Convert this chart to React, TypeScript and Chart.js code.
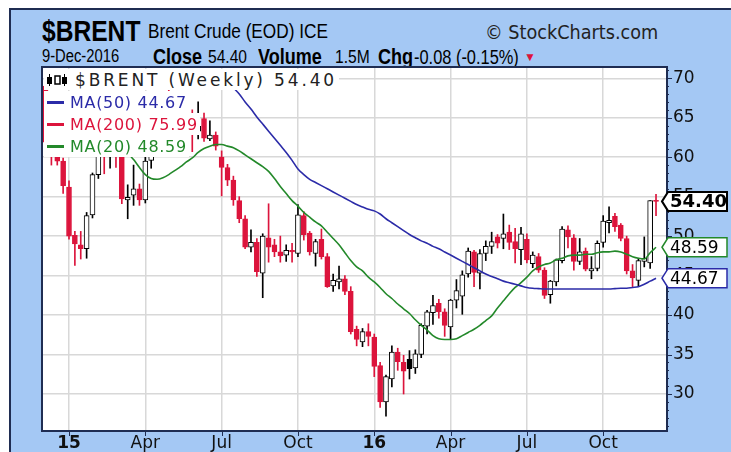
import React, { useEffect, useRef } from "react";
import { Chart, registerables } from "chart.js";

Chart.register(...registerables);

// ---------- data (weekly bars, weeks starting Monday) ----------
const START_WEEK = "2014-12-08";

const OPEN = [
  69.0, 61.9, 61.4, 59.5, 56.2, 50.1, 48.9, 48.4, 52.7, 57.8,
  61.5, 60.2, 62.6, 60.5, 54.6, 55.2, 56.0, 54.6, 59.6, 63.4,
  65.3, 66.5, 65.4, 66.8, 65.4, 65.5, 63.3, 64.9, 62.3, 62.8,
  60.0, 58.7, 57.1, 54.5, 52.2, 48.6, 49.2, 45.3, 49.8, 48.9,
  48.0, 47.6, 48.2, 47.8, 52.6, 50.4, 47.8, 49.6, 47.4, 43.7,
  44.2, 44.6, 43.0, 38.2, 36.6, 37.9, 37.2, 33.6, 29.0, 31.9,
  35.3, 34.0, 34.4, 33.3, 35.0, 38.6, 40.3, 41.5, 40.4, 38.5,
  41.9, 42.4, 45.2, 48.0, 45.3, 47.8, 48.7, 49.9, 49.7, 50.5,
  49.3, 48.3, 49.6, 46.5, 47.4, 45.7, 42.6, 44.2, 46.9, 50.8,
  49.8, 46.8, 48.1, 45.6, 45.9, 49.2, 51.7, 52.5, 51.4, 49.7,
  45.6, 44.4, 46.8, 46.6, 54.55,
];
const HIGH = [
  69.6, 63.0, 62.2, 59.9, 57.0, 50.6, 50.6, 53.0, 58.0, 61.8,
  62.5, 63.0, 63.0, 61.3, 56.5, 59.0, 56.6, 60.4, 64.0, 65.4,
  67.1, 69.6, 67.3, 67.2, 66.0, 66.0, 67.0, 65.6, 64.6, 63.2,
  60.8, 59.1, 57.6, 55.0, 52.6, 50.8, 49.7, 50.3, 54.1, 49.6,
  50.0, 48.9, 49.1, 54.0, 53.1, 50.6, 49.6, 50.9, 47.8, 45.2,
  46.2, 45.0, 43.6, 38.6, 38.3, 38.9, 37.6, 34.0, 32.4, 36.1,
  35.8, 34.9, 35.5, 35.6, 38.9, 40.6, 42.5, 42.0, 40.8, 42.0,
  44.5, 45.6, 48.5, 48.2, 48.3, 49.4, 50.5, 50.2, 52.8, 51.4,
  51.0, 51.1, 50.3, 48.0, 47.8, 46.0, 44.4, 47.1, 51.2, 51.3,
  50.2, 49.7, 48.5, 47.4, 49.4, 52.6, 53.7, 52.9, 51.6, 50.0,
  46.4, 47.2, 49.9, 54.5, 55.3,
];
const LOW = [
  61.2, 59.0, 59.0, 55.4, 49.6, 46.3, 47.1, 47.2, 52.3, 57.3,
  57.9, 58.6, 58.7, 54.1, 52.2, 53.9, 53.9, 54.2, 58.6, 61.7,
  64.4, 64.3, 63.7, 64.0, 62.6, 60.7, 62.3, 62.0, 62.1, 60.9,
  55.1, 56.4, 53.9, 51.7, 48.4, 48.0, 44.9, 42.2, 46.7, 47.4,
  46.7, 46.8, 46.7, 47.4, 49.5, 47.6, 46.2, 47.1, 43.5, 43.0,
  43.3, 42.6, 37.6, 36.1, 36.0, 36.1, 32.2, 28.3, 27.2, 30.9,
  33.0, 30.0, 31.9, 32.6, 34.6, 37.6, 38.8, 39.6, 37.3, 37.0,
  40.9, 40.1, 44.8, 43.6, 43.3, 46.9, 47.8, 48.5, 48.4, 48.3,
  46.6, 46.4, 46.6, 46.0, 45.4, 42.1, 41.5, 43.7, 46.6, 48.5,
  45.7, 46.4, 45.6, 44.6, 45.6, 48.6, 50.4, 50.6, 49.4, 45.2,
  43.6, 43.6, 46.1, 45.9, 52.6,
];
const CLOSE = [
  61.9, 61.4, 59.5, 56.4, 50.0, 49.0, 48.4, 52.6, 57.8, 61.5,
  60.2, 62.6, 60.5, 54.7, 54.9, 56.0, 54.6, 59.5, 63.5, 65.3,
  66.5, 65.4, 66.8, 65.4, 65.6, 63.3, 63.9, 62.4, 62.8, 61.4,
  58.7, 57.1, 54.6, 52.2, 48.6, 49.2, 45.5, 50.0, 48.6, 48.0,
  47.5, 48.2, 48.0, 52.7, 50.2, 48.0, 49.3, 47.4, 43.6, 44.4,
  44.6, 43.0, 37.9, 36.9, 37.9, 37.3, 33.5, 29.0, 32.2, 35.3,
  34.1, 32.9, 33.2, 35.1, 38.7, 40.4, 41.2, 40.4, 38.7, 41.9,
  43.1, 45.1, 48.1, 45.4, 47.8, 48.7, 49.3, 49.1, 50.3, 49.2,
  48.4, 50.3, 47.0, 47.6, 45.7, 42.5, 44.3, 47.0, 50.9, 49.9,
  46.8, 48.0, 45.8, 45.9, 49.1, 51.9, 52.0, 51.2, 49.7, 45.6,
  44.7, 46.9, 47.2, 54.5, 54.4,
];

// 50-week moving average as drawn (off the top of the chart before week 30)
const MA50 = [
  null, null, null, null, null, null, null, null, null, null,
  null, null, null, null, null, null, null, null, null, null,
  null, null, null, null, null, null, null, null, null, null,
  70.5, 69.6, 68.8, 68.0, 67.0, 66.1, 65.1, 64.2, 63.3, 62.4,
  61.5, 60.6, 59.6, 58.5, 57.8, 57.2, 56.8, 56.4, 56.0, 55.6,
  55.2, 54.8, 54.4, 54.0, 53.7, 53.4, 53.2, 52.8, 52.2, 51.7,
  51.2, 50.7, 50.2, 49.8, 49.4, 49.1, 48.7, 48.4, 48.0, 47.6,
  47.2, 46.8, 46.4, 46.0, 45.6, 45.2, 44.9, 44.6, 44.3, 44.1,
  43.9, 43.7, 43.5, 43.4, 43.35, 43.3, 43.3, 43.3, 43.3, 43.3,
  43.3, 43.3, 43.3, 43.3, 43.3, 43.3, 43.3, 43.35, 43.4, 43.4,
  43.5, 43.6, 43.9, 44.3, 44.67,
];
// 20-week moving average as drawn
const MA20 = [
  null, null, null, null, null, null, null, null, null, null,
  null, null, null, 61.8, 60.6, 59.7, 58.7, 57.8, 57.3, 57.2,
  57.4, 57.8, 58.3, 58.8, 59.4, 59.9, 60.6, 61.1, 61.4, 61.6,
  61.6, 61.4, 61.2, 60.8, 60.3, 59.8, 59.3, 58.8, 58.2, 57.3,
  56.3, 55.4, 54.5, 53.8, 53.0, 52.4, 51.8, 51.3, 50.5, 49.7,
  48.9, 47.9, 46.9, 46.1, 45.6, 44.8, 44.2, 43.5, 42.7, 42.1,
  41.4, 40.8, 40.2, 39.4, 38.7, 38.1, 37.4, 37.0, 36.9, 36.9,
  37.0, 37.4, 37.8, 38.2, 38.7, 39.3, 39.9, 40.9, 41.8, 42.7,
  43.5, 44.1, 44.8, 45.6, 46.1, 46.4, 46.6, 47.0, 47.2, 47.5,
  47.6, 47.6, 47.7, 47.7, 47.9, 48.0, 48.0, 48.1, 48.0, 47.7,
  47.4, 47.2, 47.1, 47.9, 48.59,
];

const QUARTER_DATES = [
  "2015-01-05", "2015-04-06", "2015-07-06", "2015-10-05",
  "2016-01-04", "2016-04-04", "2016-07-04", "2016-10-03",
];
const QUARTER_LABELS = ["15", "Apr", "Jul", "Oct", "16", "Apr", "Jul", "Oct"];
const YEAR_LABELS = ["15", "16"];
const Y_TICKS = [30, 35, 40, 45, 50, 55, 60, 65, 70];

const LAST_CLOSE = 54.4;
const LAST_MA50 = 44.67;
const LAST_MA200 = 75.99;
const LAST_MA20 = 48.59;

// ---------- style ----------
const RED = "#dc143c";
const BLUE = "#2b2ba8";
const GREEN = "#23892a";
const NAVY = "#1f2d52";
const PANEL = "#a4c8f4";
const GRID = "#d8d8d8";

const Y_MIN = 25.44;
const Y_MAX = 71.3;
const X_MIN = -0.43;
const X_MAX = 105.7;
const ROW1_TEXT_WIDTH = 262;

const WEEK_MS = 7 * 24 * 3600 * 1000;
const weekIndex = (d: string) =>
  Math.round((Date.parse(d) - Date.parse(START_WEEK)) / WEEK_MS);

const framePlugin = {
  id: "frame",
  beforeDraw(chart: any) {
    const { ctx, chartArea: a } = chart;
    ctx.save();
    ctx.fillStyle = "#ffffff";
    ctx.fillRect(a.left, a.top, a.right - a.left, a.bottom - a.top);
    ctx.restore();
  },
  afterDraw(chart: any) {
    const { ctx, chartArea: a, scales } = chart;
    const ys = scales.y;
    const xs = scales.x;
    ctx.save();
    ctx.strokeStyle = NAVY;
    ctx.lineWidth = 2;
    ctx.strokeRect(a.left - 1, a.top - 1, a.right - a.left + 2, a.bottom - a.top + 2);
    ctx.lineWidth = 1;
    ctx.beginPath();
    for (let v = Math.ceil(Y_MIN); v <= Math.floor(Y_MAX); v++) {
      const py = Math.round(ys.getPixelForValue(v)) + 0.5;
      const len = v % 5 === 0 ? 6 : 3;
      ctx.moveTo(a.right, py);
      ctx.lineTo(a.right + len, py);
    }
    xs.ticks.forEach((t: any) => {
      const px = Math.round(xs.getPixelForValue(t.value)) + 0.5;
      ctx.moveTo(px, a.bottom);
      ctx.lineTo(px, a.bottom + 6);
    });
    ctx.stroke();

    const tag = (value: number, color: string, bold: boolean) => {
      const y = ys.getPixelForValue(value);
      const tip = a.right - 4;
      const left = a.right + 2;
      const right = a.right + 61;
      const h = 9.5;
      ctx.beginPath();
      ctx.moveTo(tip, y);
      ctx.lineTo(left, y - h);
      ctx.lineTo(right, y - h);
      ctx.lineTo(right, y + h);
      ctx.lineTo(left, y + h);
      ctx.closePath();
      ctx.fillStyle = "#ffffff";
      ctx.fill();
      ctx.lineWidth = bold ? 2 : 1.5;
      ctx.strokeStyle = color;
      ctx.stroke();
      ctx.fillStyle = "#000000";
      ctx.font = (bold ? "bold 18px" : "17px") + ' "DejaVu Sans"';
      ctx.textAlign = "left";
      ctx.textBaseline = "middle";
      ctx.fillText(value.toFixed(2), left + 2, y + 1);
    };
    tag(LAST_MA50, BLUE, false);
    tag(LAST_MA20, GREEN, false);
    tag(LAST_CLOSE, "#000000", true);
    ctx.restore();
  },
};

function App() {
  const canvasRef = useRef<HTMLCanvasElement | null>(null);
  const row1Ref = useRef<HTMLSpanElement | null>(null);

  useEffect(() => {
    const span = row1Ref.current;
    if (span) {
      span.style.letterSpacing = "0px";
      const w = span.getBoundingClientRect().width;
      const n = (span.textContent || "").length;
      if (n > 0) span.style.letterSpacing = `${(ROW1_TEXT_WIDTH - w) / n}px`;
    }

    const canvas = canvasRef.current;
    if (!canvas) return;

    const colors = CLOSE.map((c, i) =>
      c >= (i === 0 ? OPEN[0] : CLOSE[i - 1]) ? "#000000" : RED
    );
    const fills = CLOSE.map((c, i) => (c < OPEN[i] ? colors[i] : "#ffffff"));
    const bodies = CLOSE.map((c, i) => ({ x: i, y: [OPEN[i], c] }));
    const wicks = CLOSE.map((_, i) => ({ x: i, y: [LOW[i], HIGH[i]] }));
    const ma50Pts = MA50.map((v, i) => ({ x: i, y: v })).filter((p) => p.y !== null);
    const ma20Pts = MA20.map((v, i) => ({ x: i, y: v })).filter((p) => p.y !== null);
    const quarterIdx = QUARTER_DATES.map(weekIndex);

    const chart = new Chart(canvas, {
      type: "bar",
      data: {
        datasets: [
          {
            type: "line",
            label: "MA(50)",
            data: ma50Pts as any,
            borderColor: BLUE,
            borderWidth: 1.6,
            pointRadius: 0,
            cubicInterpolationMode: "monotone",
            order: 0,
          } as any,
          {
            type: "line",
            label: "MA(20)",
            data: ma20Pts as any,
            borderColor: GREEN,
            borderWidth: 1.6,
            pointRadius: 0,
            cubicInterpolationMode: "monotone",
            order: 0,
          } as any,
          {
            type: "bar",
            label: "body",
            data: bodies as any,
            backgroundColor: fills,
            borderColor: colors,
            borderWidth: 1,
            borderSkipped: false,
            barThickness: 5,
            minBarLength: 1,
            grouped: false,
            order: 1,
          } as any,
          {
            type: "bar",
            label: "wick",
            data: wicks as any,
            backgroundColor: colors,
            borderWidth: 0,
            barThickness: 1,
            grouped: false,
            order: 2,
          } as any,
        ],
      },
      options: {
        animation: false,
        responsive: false,
        maintainAspectRatio: false,
        events: [],
        layout: { padding: { left: 43, top: 68, right: 15, bottom: 0 } },
        plugins: { legend: { display: false }, tooltip: { enabled: false } },
        scales: {
          x: {
            type: "linear",
            min: X_MIN,
            max: X_MAX,
            offset: false,
            border: { display: false },
            grid: { color: GRID, lineWidth: 1.5, drawTicks: false, offset: false },
            afterBuildTicks: (axis: any) => {
              axis.ticks = quarterIdx.map((v) => ({ value: v }));
            },
            afterFit: (axis: any) => {
              axis.height = 22;
            },
            ticks: {
              autoSkip: false,
              maxRotation: 0,
              padding: 3,
              color: "#111111",
              font: (ctx: any) => ({
                family: "DejaVu Sans",
                size: 17,
                weight: YEAR_LABELS.includes(QUARTER_LABELS[ctx.index]) ? "bold" : "normal",
              }),
              callback: (_v: any, i: number) => QUARTER_LABELS[i],
            },
          },
          y: {
            type: "linear",
            position: "right",
            min: Y_MIN,
            max: Y_MAX,
            border: { display: false },
            grid: { color: GRID, lineWidth: 1.5, drawTicks: false },
            afterBuildTicks: (axis: any) => {
              axis.ticks = Y_TICKS.map((v) => ({ value: v }));
            },
            afterFit: (axis: any) => {
              axis.width = 50;
            },
            ticks: {
              padding: 7,
              color: "#111111",
              font: { family: "DejaVu Sans", size: 17 },
              callback: (v: any) => String(v),
            },
          },
        },
      } as any,
      plugins: [framePlugin],
    });

    return () => chart.destroy();
  }, []);

  const sans = '"Liberation Sans", Arial, sans-serif';
  const abs = (left: number, top: number, font: string, extra: any = {}) => ({
    position: "absolute" as const,
    left,
    top,
    whiteSpace: "nowrap" as const,
    lineHeight: 1,
    font: `${font} ${sans}`,
    color: "#000",
    transform: "scaleX(0.82)",
    transformOrigin: "0 0",
    ...extra,
  });
  const legendFont = '16px "DejaVu Sans", sans-serif';

  const legendRow = (top: number, color: string, text: string) => (
    <div
      style={{
        position: "absolute",
        left: 44,
        top,
        height: 22,
        background: "#ffffff",
        display: "flex",
        alignItems: "center",
        paddingRight: 2,
        color,
        font: legendFont,
        letterSpacing: "0.7px",
        whiteSpace: "nowrap",
      }}
    >
      <span
        style={{
          display: "inline-block",
          width: 17,
          height: 3,
          background: color,
          marginLeft: 3,
          marginRight: 6,
        }}
      />
      {text}
    </div>
  );

  return (
    <div
      style={{
        position: "fixed",
        left: 0,
        top: 0,
        width: 731,
        height: 452,
        background: "#ffffff",
        overflow: "hidden",
      }}
    >
      <div
        style={{
          position: "absolute",
          left: 9,
          top: 8,
          width: 740,
          height: 470,
          background: PANEL,
          borderLeft: `2px solid ${NAVY}`,
          borderTop: `2px solid ${NAVY}`,
        }}
      />
      {/* header line 1 */}
      <div style={abs(42, 14, "bold 30px")}>$BRENT</div>
      <div style={abs(148, 19, "21px")}>Brent Crude (EOD) ICE</div>
      <div
        style={abs(485, 21, "19px", {
          font: '19px "DejaVu Sans", sans-serif',
          transform: "scaleX(0.93)",
          color: "#222",
        })}
      >
        © StockCharts.com
      </div>
      {/* header line 2 */}
      <div style={abs(42, 46, "18px")}>9-Dec-2016</div>
      <div style={abs(153, 44, "bold 22px")}>Close</div>
      <div style={abs(208, 46, "19px")}>54.40</div>
      <div style={abs(258, 44, "bold 22px")}>Volume</div>
      <div style={abs(335, 46, "19px")}>1.5M</div>
      <div style={abs(378, 44, "bold 22px")}>Chg</div>
      <div style={abs(414, 46, "20px")}>-0.08 (-0.15%)</div>
      <div style={abs(524, 50, "12px", { transform: "none", color: RED })}>▼</div>

      <canvas
        ref={canvasRef}
        width={731}
        height={452}
        style={{ position: "absolute", left: 0, top: 0, width: 731, height: 452 }}
      />

      {/* legend rows (opaque, they hide what lies beneath) */}
      <div
        style={{
          position: "absolute",
          left: 44,
          top: 69,
          height: 21,
          background: "#ffffff",
          display: "flex",
          alignItems: "center",
          paddingRight: 2,
          color: "#222222",
          font: '17px "DejaVu Sans", sans-serif',
          whiteSpace: "nowrap",
        }}
      >
        <svg width="24" height="14" style={{ marginLeft: 2, marginRight: 5 }}>
          <rect x="1" y="4" width="5" height="7" fill="#000" />
          <rect x="3" y="1" width="1" height="12" fill="#000" />
          <rect x="9" y="3" width="5" height="8" fill="#fff" stroke="#000" strokeWidth="1.5" />
          <rect x="16" y="4" width="5" height="7" fill="#000" />
          <rect x="18" y="1" width="1" height="12" fill="#000" />
        </svg>
        <span ref={row1Ref}>{`$BRENT (Weekly) ${LAST_CLOSE.toFixed(2)}`}</span>
      </div>
      {legendRow(91, BLUE, `MA(50) ${LAST_MA50.toFixed(2)}`)}
      {legendRow(113, RED, `MA(200) ${LAST_MA200.toFixed(2)}`)}
      {legendRow(135, GREEN, `MA(20) ${LAST_MA20.toFixed(2)}`)}
    </div>
  );
}

export default App;
